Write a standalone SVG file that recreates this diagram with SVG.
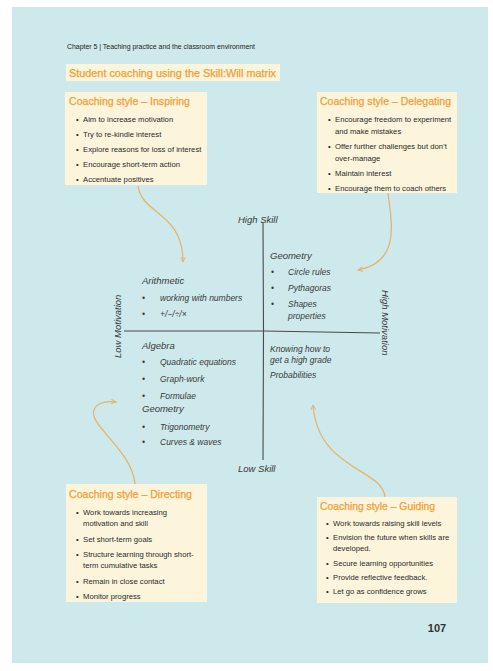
<svg xmlns="http://www.w3.org/2000/svg" width="493" height="671" viewBox="0 0 493 671">
<style>
.page{fill:#cde9eb}
.box{fill:#fdf4dc}
.ttl{font-family:"Liberation Sans",Arial,sans-serif;fill:#f0a035;font-size:11px;stroke:#f0a035;stroke-width:0.25}
.bt{font-family:"Liberation Sans",Arial,sans-serif;fill:#2a2a2a;font-size:7.7px}
.hd{font-family:"Liberation Sans",Arial,sans-serif;fill:#222;font-size:6.5px}
.hw{font-family:"Liberation Sans",Arial,sans-serif;font-style:italic;fill:#3a3a3a;font-size:8.5px}
.hwh{font-family:"Liberation Sans",Arial,sans-serif;font-style:italic;fill:#3a3a3a;font-size:9.5px}
.ax{stroke:#4a4a4a;stroke-width:1.1;fill:none}
.con{stroke:#e6b46e;stroke-width:1.3;fill:none;marker-end:url(#ah)}
</style>
<defs>
<marker id="ah" viewBox="0 0 10 10" refX="9" refY="5" markerWidth="6" markerHeight="6" orient="auto" markerUnits="userSpaceOnUse">
<path d="M1,1 L9,5 L1,9" fill="none" stroke="#e6b46e" stroke-width="1.6"/>
</marker>
</defs>
<rect x="0" y="0" width="493" height="671" fill="#ffffff"/>
<rect class="page" x="12" y="7" width="476" height="656"/>
<text class="hd" x="67" y="49" textLength="188" lengthAdjust="spacingAndGlyphs">Chapter 5 | Teaching practice and the classroom environment</text>
<g id="title">
<rect class="box" x="66" y="64" width="214" height="17"/>
<text class="ttl" x="69" y="76.5" font-size="12" textLength="207" lengthAdjust="spacingAndGlyphs">Student coaching using the Skill:Will matrix</text>
</g>
<g id="inspiring">
<rect class="box" x="65" y="92" width="142" height="93"/>
<text class="ttl" x="69" y="105" textLength="121" lengthAdjust="spacingAndGlyphs">Coaching style – Inspiring</text>
<g class="bt">
<text x="76" y="122">•</text><text x="83" y="122">Aim to increase motivation</text>
<text x="76" y="137">•</text><text x="83" y="137">Try to re-kindle interest</text>
<text x="76" y="152">•</text><text x="83" y="152">Explore reasons for loss of interest</text>
<text x="76" y="167">•</text><text x="83" y="167">Encourage short-term action</text>
<text x="76" y="182">•</text><text x="83" y="182">Accentuate positives</text>
</g>
</g>
<g id="delegating">
<rect class="box" x="317" y="92" width="140" height="101"/>
<text class="ttl" x="320" y="105" textLength="131" lengthAdjust="spacingAndGlyphs">Coaching style – Delegating</text>
<g class="bt">
<text x="328" y="122">•</text><text x="335" y="122">Encourage freedom to experiment</text>
<text x="335" y="134">and make mistakes</text>
<text x="328" y="149">•</text><text x="335" y="149">Offer further challenges but don’t</text>
<text x="335" y="161">over-manage</text>
<text x="328" y="176">•</text><text x="335" y="176">Maintain interest</text>
<text x="328" y="191">•</text><text x="335" y="191">Encourage them to coach others</text>
</g>
</g>
<g id="directing">
<rect class="box" x="66" y="484" width="141" height="118"/>
<text class="ttl" x="69" y="498" textLength="123" lengthAdjust="spacingAndGlyphs">Coaching style – Directing</text>
<g class="bt">
<text x="76" y="515">•</text><text x="83" y="515">Work towards increasing</text>
<text x="83" y="526">motivation and skill</text>
<text x="76" y="542">•</text><text x="83" y="542">Set short-term goals</text>
<text x="76" y="557">•</text><text x="83" y="557">Structure learning through short-</text>
<text x="83" y="568">term cumulative tasks</text>
<text x="76" y="584">•</text><text x="83" y="584">Remain in close contact</text>
<text x="76" y="599">•</text><text x="83" y="599">Monitor progress</text>
</g>
</g>
<g id="guiding">
<rect class="box" x="317" y="497" width="140" height="106"/>
<text class="ttl" x="320" y="510" textLength="115" lengthAdjust="spacingAndGlyphs">Coaching style – Guiding</text>
<g class="bt">
<text x="326" y="526">•</text><text x="333" y="526">Work towards raising skill levels</text>
<text x="326" y="540">•</text><text x="333" y="540">Envision the future when skills are</text>
<text x="333" y="551">developed.</text>
<text x="326" y="566">•</text><text x="333" y="566">Secure learning opportunities</text>
<text x="326" y="580">•</text><text x="333" y="580">Provide reflective feedback.</text>
<text x="326" y="594">•</text><text x="333" y="594">Let go as confidence grows</text>
</g>
</g>
<g id="matrix">
<path class="ax" d="M263,223 L263.5,330 L263,460"/>
<path class="ax" d="M124,331 L263,331 L380,333"/>
<text class="hwh" x="238" y="223">High Skill</text>
<text class="hwh" x="238" y="472">Low Skill</text>
<text class="hwh" transform="translate(121,358) rotate(-90)">Low Motivation</text>
<text class="hwh" transform="translate(382,290) rotate(90)">High Motivation</text>
</g>
<g id="q-top-left" class="hw">
<text class="hwh" x="142" y="284">Arithmetic</text>
<text x="142" y="301">•</text><text x="160" y="301">working with numbers</text>
<text x="142" y="317">•</text><text x="160" y="317">+/−/÷/×</text>
</g>
<g id="q-top-right" class="hw">
<text class="hwh" x="270" y="259">Geometry</text>
<text x="271" y="275">•</text><text x="288" y="275">Circle rules</text>
<text x="271" y="291">•</text><text x="288" y="291">Pythagoras</text>
<text x="271" y="307">•</text><text x="288" y="307">Shapes</text>
<text x="288" y="319">properties</text>
</g>
<g id="q-bottom-left" class="hw">
<text class="hwh" x="142" y="349">Algebra</text>
<text x="142" y="365">•</text><text x="160" y="365">Quadratic equations</text>
<text x="142" y="382">•</text><text x="160" y="382">Graph-work</text>
<text x="142" y="399">•</text><text x="160" y="399">Formulae</text>
<text class="hwh" x="142" y="412">Geometry</text>
<text x="142" y="430">•</text><text x="160" y="430">Trigonometry</text>
<text x="142" y="445">•</text><text x="160" y="445">Curves &amp; waves</text>
</g>
<g id="q-bottom-right" class="hw">
<text x="270" y="352">Knowing how to</text>
<text x="270" y="363">get a high grade</text>
<text x="270" y="378">Probabilities</text>
</g>
<g id="connectors">
<path class="con" d="M138,186 C142,215 183,212 183,262"/>
<path class="con" d="M388,193 C392,225 400,262 358,270"/>
<path class="con" d="M135,484 C132,450 88,425 94,410 C97,402 106,401 116,402"/>
<path class="con" d="M385,497 C382,468 318,470 313,405"/>
</g>
<text x="437" y="632" text-anchor="middle" font-family="Liberation Sans,Arial,sans-serif" font-weight="bold" font-size="11" fill="#333">107</text>
</svg>
